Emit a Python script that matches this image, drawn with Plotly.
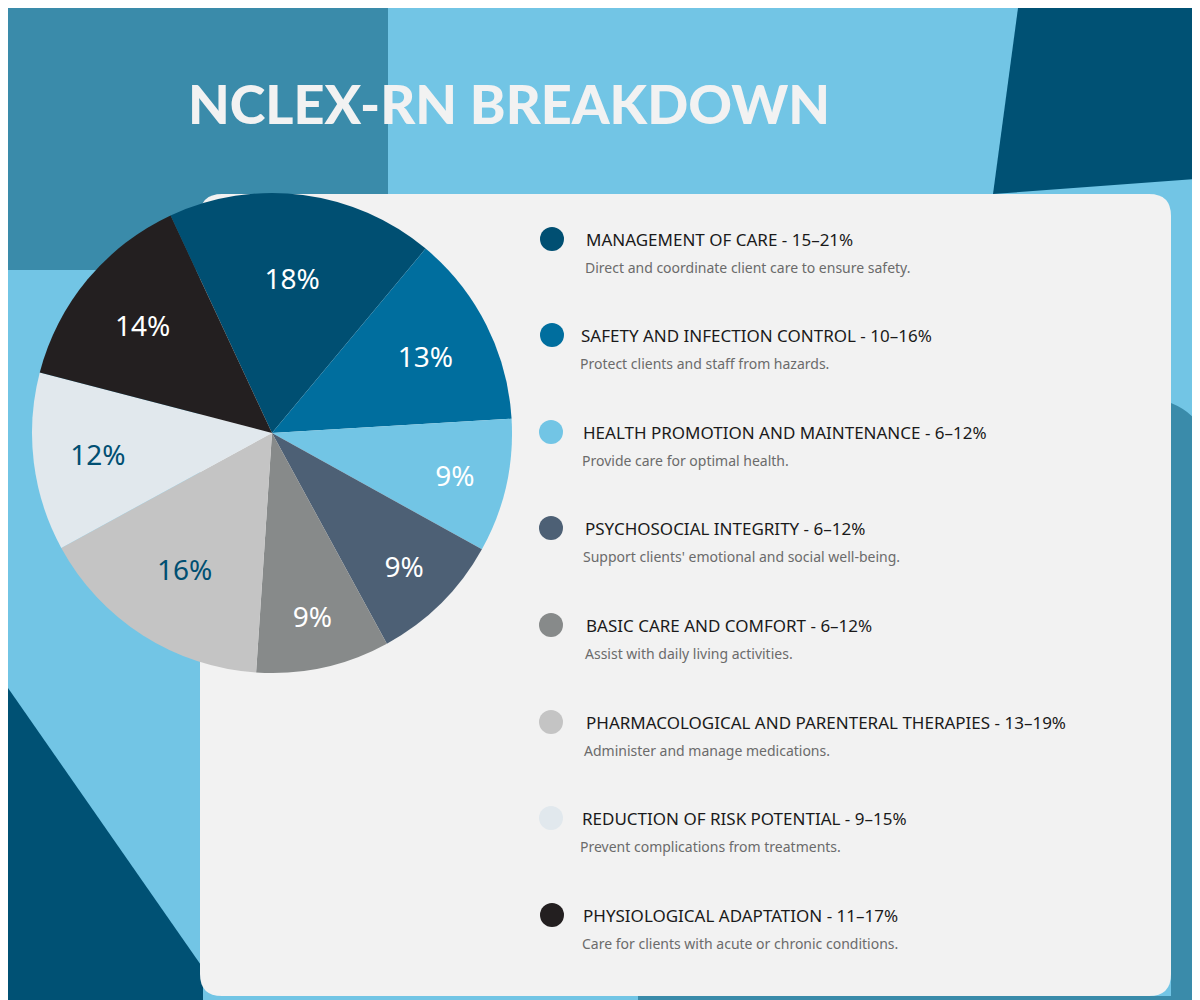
import plotly.graph_objects as go

title = "NCLEX-RN BREAKDOWN"
shares = [18, 13, 9, 9, 9, 16, 12, 14]
slice_colors = ["#004F72", "#006E9E", "#72C5E5", "#4D6075", "#878A8A", "#C4C4C4", "#E1E8ED", "#231F20"]
label_colors = ["white", "white", "white", "white", "white", "#004F72", "#004F72", "white"]
categories = [
    "MANAGEMENT OF CARE - 15\u201321%",
    "SAFETY AND INFECTION CONTROL - 10\u201316%",
    "HEALTH PROMOTION AND MAINTENANCE - 6\u201312%",
    "PSYCHOSOCIAL INTEGRITY - 6\u201312%",
    "BASIC CARE AND COMFORT - 6\u201312%",
    "PHARMACOLOGICAL AND PARENTERAL THERAPIES - 13\u201319%",
    "REDUCTION OF RISK POTENTIAL - 9\u201315%",
    "PHYSIOLOGICAL ADAPTATION - 11\u201317%",
]
descriptions = [
    "Direct and coordinate client care to ensure safety.",
    "Protect clients and staff from hazards.",
    "Provide care for optimal health.",
    "Support clients' emotional and social well-being.",
    "Assist with daily living activities.",
    "Administer and manage medications.",
    "Prevent complications from treatments.",
    "Care for clients with acute or chronic conditions.",
]

W, H = 1200, 1000
fig = go.Figure()

fig.add_trace(go.Pie(
    values=shares,
    labels=categories,
    sort=False,
    direction="clockwise",
    rotation=-25,
    marker=dict(colors=slice_colors, line=dict(width=0)),
    texttemplate="%{value}%",
    textposition="inside",
    insidetextorientation="horizontal",
    textfont=dict(size=28, color=label_colors, family="Noto Sans"),
    hoverinfo="label+percent",
    showlegend=False,
    domain=dict(x=[24 / W, 504 / W], y=[1 - 665 / H, 1 - 185 / H]),
))


def rounded_rect(x0, y0, x1, y1, r):
    return (f"M{x0+r},{y0} L{x1-r},{y0} Q{x1},{y0} {x1},{y0+r} "
            f"L{x1},{y1-r} Q{x1},{y1} {x1-r},{y1} L{x0+r},{y1} "
            f"Q{x0},{y1} {x0},{y1-r} L{x0},{y0+r} Q{x0},{y0} {x0+r},{y0} Z")


shapes = [
    # background blocks
    dict(type="rect", x0=0, y0=0, x1=380, y1=262, fillcolor="#3A8BAA"),
    dict(type="rect", x0=0, y0=262, x1=200, y1=262, fillcolor="#3A8BAA"),
    dict(type="path", path="M1010,0 L1200,0 L1200,170 L985,186 Z", fillcolor="#005174"),
    dict(type="path", path="M0,680 L195,960 L195,1000 L0,1000 Z", fillcolor="#005174"),
    dict(type="path", path="M1163,395 Q1200,410 1200,450 L1200,1000 L630,1000 L630,988 L1163,988 Z",
         fillcolor="#3A8BAA"),
    # white panel
    dict(type="path", path=rounded_rect(192, 186, 1163, 988, 22), fillcolor="#F2F2F2"),
]
for s in shapes:
    s.update(xref="x", yref="y", line=dict(width=0), layer="below")

annotations = [dict(
    x=178, y=95, xref="x", yref="y", xanchor="left", yanchor="middle",
    text=title, showarrow=False,
    font=dict(size=54, color="#F2F2F2", family="Lato", weight=900),
)]

row_y = [231, 327, 424, 520, 617, 714, 810, 907]
dot_x = [544, 544, 543, 543, 543, 543, 543, 544]
head_x = [576, 571, 573, 575, 576, 576, 572, 573]
desc_x = [575, 570, 572, 573, 575, 574, 570, 572]
for i in range(len(categories)):
    shapes.append(dict(type="circle", xref="x", yref="y",
                       x0=dot_x[i] - 12, x1=dot_x[i] + 12, y0=row_y[i] - 12, y1=row_y[i] + 12,
                       fillcolor=slice_colors[i], line=dict(width=0)))
    annotations.append(dict(x=head_x[i], y=row_y[i], xref="x", yref="y", xanchor="left",
                            yanchor="middle", showarrow=False, text=categories[i],
                            font=dict(size=17, color="#1A1A1A", family="Noto Sans")))
    annotations.append(dict(x=desc_x[i], y=row_y[i] + 28, xref="x", yref="y", xanchor="left",
                            yanchor="middle", showarrow=False, text=descriptions[i],
                            font=dict(size=14, color="#6B6B6B", family="Noto Sans")))

fig.update_layout(
    width=W, height=H,
    margin=dict(l=0, r=0, t=0, b=0),
    paper_bgcolor="#72C5E5",
    plot_bgcolor="rgba(0,0,0,0)",
    xaxis=dict(range=[0, W], visible=False, fixedrange=True),
    yaxis=dict(range=[H, 0], visible=False, fixedrange=True),
    shapes=shapes,
    annotations=annotations,
)

fig.write_html("out.html")
